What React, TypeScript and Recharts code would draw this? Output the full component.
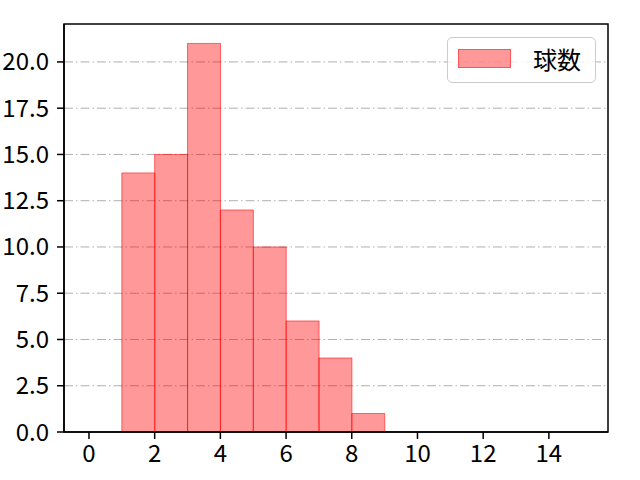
import React from "react";
import {
  ComposedChart,
  Bar,
  XAxis,
  YAxis,
  CartesianGrid,
  Legend,
  ReferenceArea,
} from "recharts";

// histogram bins (start .. end) and pitch counts
const binStarts = [1, 2, 3, 4, 5, 6, 7, 8];
const binEnds = [2, 3, 4, 5, 6, 7, 8, 9];
const counts = [14, 15, 21, 12, 10, 6, 4, 1];

const xTicks = [0, 2, 4, 6, 8, 10, 12, 14];
const yTicks = [0, 2.5, 5, 7.5, 10, 12.5, 15, 17.5, 20];
const xDomain = [-0.76, 15.8];
const yDomain = [0, 22.05];

const seriesName = "球数";

const data = binStarts.map((s, i) => ({
  x: (s + binEnds[i]) / 2,
  count: counts[i],
}));

const FONT = '"Noto Sans CJK JP", "Noto Sans", sans-serif';
const tickStyle = { fontSize: 24, fill: "#000", fontFamily: FONT };

function LegendBox() {
  return (
    <div
      style={{
        position: "relative",
        width: 149,
        height: 46,
        boxSizing: "border-box",
        border: "1px solid #cccccc",
        borderRadius: 5,
        background: "rgba(255,255,255,0.8)",
        fontFamily: FONT,
      }}
    >
      <div
        style={{
          position: "absolute",
          left: 10,
          top: 11,
          width: 53,
          height: 19,
          boxSizing: "border-box",
          background: "rgba(255,0,0,0.4)",
          border: "1px solid rgba(255,0,0,0.45)",
        }}
      />
      <span
        style={{
          position: "absolute",
          left: 85,
          top: 4,
          fontSize: 24,
          lineHeight: "34px",
          color: "#000",
        }}
      >
        {seriesName}
      </span>
    </div>
  );
}

export default function App() {
  return (
    <div style={{ position: "absolute", left: 0, top: 0, width: 640, height: 480, background: "#fff" }}>
      <ComposedChart
        width={640}
        height={480}
        data={data}
        margin={{ top: 24, right: 32, left: 0, bottom: 0 }}
        barCategoryGap={0}
        barGap={0}
        style={{ fontFamily: FONT }}
      >
        <CartesianGrid
          vertical={false}
          horizontalValues={yTicks.slice(1)}
          stroke="#b0b0b0"
          strokeWidth={1}
          strokeDasharray="9 3 1.5 3"
        />
        <XAxis
          dataKey="x"
          type="number"
          domain={xDomain}
          ticks={xTicks}
          allowDataOverflow
          height={48}
          tick={tickStyle}
          tickSize={7}
          tickMargin={6}
          axisLine={{ stroke: "#000", strokeWidth: 1.5 }}
          tickLine={{ stroke: "#000", strokeWidth: 1.5 }}
        />
        <YAxis
          type="number"
          domain={yDomain}
          ticks={yTicks}
          allowDataOverflow
          width={64}
          tick={tickStyle}
          tickSize={7}
          tickMargin={8}
          tickFormatter={(v: number) => v.toFixed(1)}
          axisLine={{ stroke: "#000", strokeWidth: 1.5 }}
          tickLine={{ stroke: "#000", strokeWidth: 1.5 }}
        />
        <Bar
          dataKey="count"
          name={seriesName}
          fill="#ff0000"
          fillOpacity={0.4}
          stroke="#ff0000"
          strokeOpacity={0.55}
          strokeWidth={1}
          isAnimationActive={false}
        />
        {/* plot frame (matplotlib-style box) */}
        <ReferenceArea
          x1={xDomain[0]}
          x2={xDomain[1]}
          y1={yDomain[0]}
          y2={yDomain[1]}
          fill="none"
          fillOpacity={0}
          stroke="#000"
          strokeWidth={1.5}
          ifOverflow="visible"
        />
        <Legend
          layout="horizontal"
          verticalAlign="middle"
          align="center"
          content={() => <LegendBox />}
          wrapperStyle={{ left: 447, top: 37, width: 149, height: 46 }}
        />
      </ComposedChart>
    </div>
  );
}
